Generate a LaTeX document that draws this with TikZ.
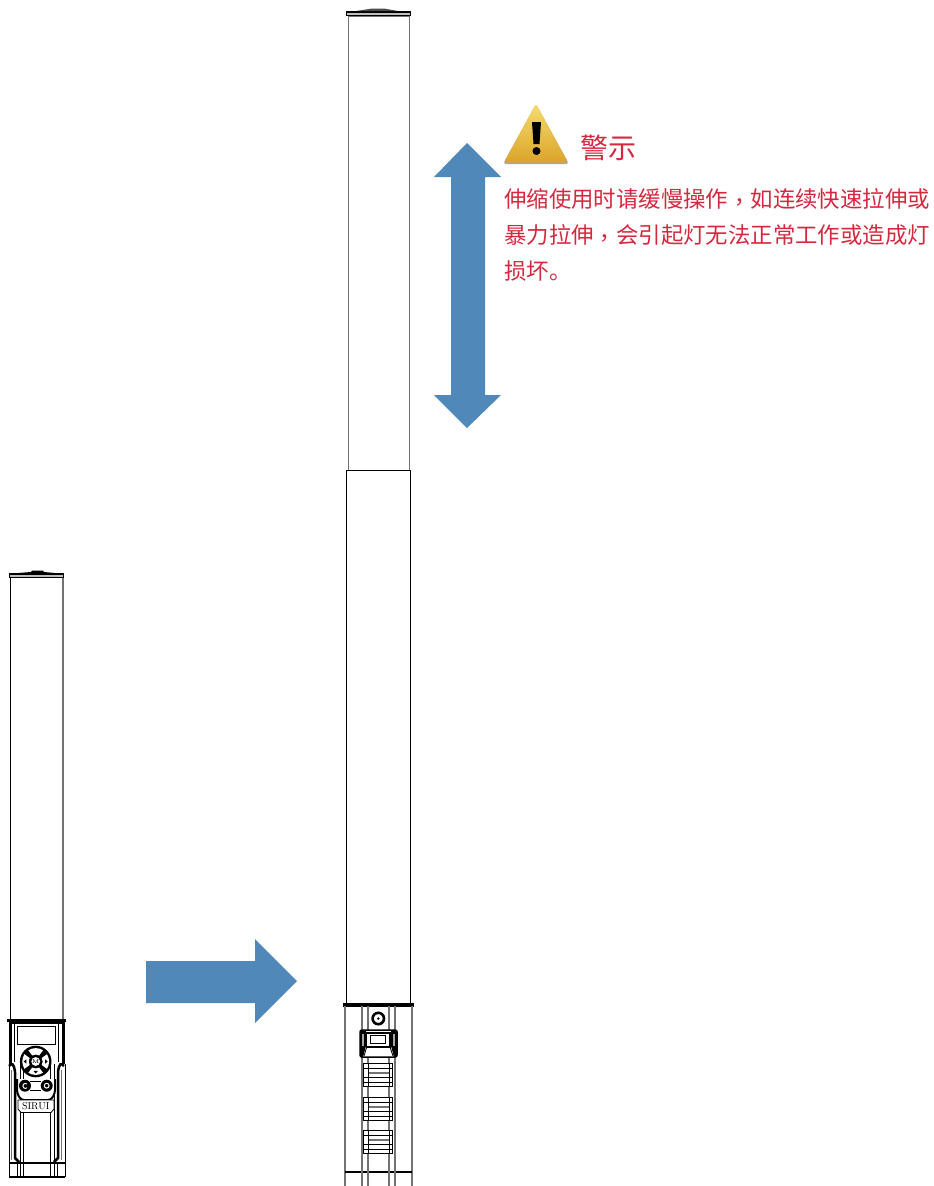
\documentclass[tikz,border=0pt]{standalone}
\usepackage{amsmath}
\usepackage{fontspec}
\usepackage{color}
\newfontfamily\cjk{Noto Sans CJK SC}
\newfontfamily\cjkcomma{Noto Sans CJK TC}
\newcommand{\midcomma}{\raisebox{-3.5pt}{\cjkcomma ，}}
\definecolor{arrowblue}{HTML}{4F88B9}
\definecolor{warnred}{HTML}{D4283F}
\definecolor{warntop}{HTML}{F4DE6E}
\definecolor{warnmid}{HTML}{EFCB35}
\definecolor{warnlow}{HTML}{DCA32B}
\begin{document}
\begin{tikzpicture}[x=1pt,y=-1pt]
        \tikzstyle{line} = [draw=black, line width=0.8pt]
        \tikzstyle{heavy} = [draw=black, line width=1.5pt]
        \tikzstyle{soft} = [draw=black!55, line width=1.2pt]
        \tikzstyle{bigarrow} = [fill=arrowblue, draw=none]
        \tikzstyle{warntext} = [text=warnred, font=\cjk\fontsize{22.4}{36}\selectfont, inner sep=0pt, align=left]
        \useasboundingbox (0,0) rectangle (934,1186);
        % short lamp
        \draw[line] (10,577) -- (10,1020);
        \draw[soft] (63,577) -- (63,1020);
        \draw[heavy,fill=black!25] (9.5,574) rectangle (63.5,577.5);
        \fill[black] (18,573) -- (31,572) -- (32,570.5) -- (43,570.5) -- (44,572) -- (55,573) -- cycle;
        \draw[heavy,line width=3pt] (7,1020.5) -- (66,1020.5);
        \draw[heavy,line width=3pt] (10,1022) -- (10,1064);
        \draw[heavy,line width=3pt] (63,1022) -- (63,1064);
        \draw[heavy,line width=2pt] (10,1023) -- (63,1023);
        \draw[line] (14.5,1024) -- (14.5,1062);
        \draw[line] (58,1024) -- (58,1062);
        \draw[line] (17.7,1026) rectangle (55,1044);
        % side grips
        \foreach \x/\w in {9/1,65/1,20/0.8,23/0.8,50/0.8,54/0.8} {
          \draw[line,line width=\w pt] (\x,1064) -- (\x,1177);
        }
        \draw[heavy,line width=2.5pt] (9,1066) .. controls (12,1062) and (14,1064) .. (15,1072) -- (15,1158) -- (19,1162);
        \draw[heavy,line width=2.5pt] (64,1066) .. controls (61,1062) and (59,1064) .. (58,1072) -- (58,1158) -- (54,1162);
        \draw[soft] (11.5,1070) -- (11.5,1160);
        \draw[soft] (61.5,1070) -- (61.5,1160);
        \draw[heavy,line width=1.3pt] (9,1163) -- (65,1163);
        \draw[heavy,line width=1.3pt] (9,1177) -- (65,1177);
        \foreach \x in {17,57} {
          \draw[line] (\x,1163) -- (\x,1177);
        }
        % control ring
        \fill[black] (35.7,1061.5) circle (15.8);
        \foreach \a in {0,90,180,270} {
          \fill[white,shift={(35.7,1061.5)}] (\a+30:7) arc (\a+30:\a-30:7) -- (\a-33:13.4) arc (\a-33:\a+33:13.4) -- cycle;
          \fill[black,shift={(35.7,1061.5)},rotate=\a] (12,0) -- (9.4,2.2) -- (9.4,-2.2) -- cycle;
        }
        \fill[white] (35.7,1061.5) circle (4.4);
        \node[font=\bfseries\fontsize{5.5}{5.5}\selectfont,inner sep=0pt] (mode) at (35.7,1061.5) {M};
        % buttons and badge
        \draw[heavy,line width=2pt,fill=white,rounded corners=3pt] (17,1079) -- (17,1093) -- (21,1100) -- (51,1100) -- (55,1093) -- (55,1079);
        \draw[line] (30,1081) -- (41,1081);
        \draw[line] (30,1090) -- (41,1090);
        \fill[black] (25,1085.7) circle (6);
        \fill[black] (46.7,1085.7) circle (6);
        \draw[white,line width=1pt] (27,1084) arc (-50:-310:2.5);
        \draw[white,line width=1pt] (46.7,1085.7) circle (2.4);
        \draw[line,fill=white] (18,1100) -- (54,1100) -- (54,1109) -- (51,1112.5) -- (21,1112.5) -- (18,1109) -- cycle;
        \node[font=\fontsize{10}{10}\selectfont,inner sep=0pt] (brand) at (35.7,1106) {SIRUI};
        % long lamp
        \draw[soft,line width=1pt] (348,16) rectangle (409,470);
        \draw[line] (346,470) rectangle (410,1003);
        \draw[heavy,fill=black!25] (346.5,12) rectangle (410.5,15.5);
        \fill[black!70] (356,11) -- (371,8.7) -- (385,8.7) -- (398,11) -- cycle;
        \draw[heavy,line width=2pt,fill=black!25] (344,1003.5) rectangle (413,1006);
        \draw[soft,line width=1.6pt] (345,1006) -- (345,1186);
        \draw[soft,line width=1.6pt] (412,1006) -- (412,1186);
        \draw[heavy,line width=1.3pt] (345,1172) -- (412,1172);
        \foreach \x in {362,395} {
          \draw[soft,line width=1.6pt] (\x,1006) -- (\x,1186);
        }
        \foreach \x in {368,389} {
          \draw[soft] (\x,1006) -- (\x,1186);
        }
        \draw[heavy,line width=2.6pt,fill=white] (378.3,1018.5) circle (5.7);
        \fill[black] (378.3,1018.5) circle (1.3);
        % sliding clip
        \draw[heavy,fill=white,rounded corners=2pt] (360,1030) rectangle (397,1057);
        \fill[black] (360,1030) -- (366,1030) -- (366,1046) -- (363,1057) -- (360,1057) -- cycle;
        \fill[black] (397,1030) -- (391,1030) -- (391,1046) -- (394,1057) -- (397,1057) -- cycle;
        \fill[black!35] (362,1034) rectangle (364,1046);
        \fill[black!35] (393,1034) rectangle (395,1046);
        \draw[heavy,line width=1.2pt] (366.7,1033) rectangle (390,1047);
        \draw[heavy,line width=1pt] (370.7,1035) rectangle (385.7,1043.5);
        \draw[line] (366.7,1047) -- (364,1056);
        \draw[line] (390,1047) -- (393,1056);
        % latches
        \foreach \y in {1063,1097,1130} {
          \draw[line,fill=white] (363.5,\y) rectangle (392.5,\y+23);
          \foreach \d in {5,14,19} {
            \draw[line] (363.5,\y+\d) -- (392.5,\y+\d);
          }
          \draw[soft,line width=2pt] (368,\y+9.5) -- (389,\y+9.5);
          \draw[line] (368,\y) -- (368,\y+23);
          \draw[line] (389,\y) -- (389,\y+23);
        }
        % arrows
        \fill[bigarrow] (467,143) -- (501,177) -- (485,177) -- (485,395) -- (501,395) -- (467,428) -- (434,395) -- (451,395) -- (451,177) -- (434,177) -- cycle;
        \fill[bigarrow] (146,961) -- (255,961) -- (255,939) -- (297,981) -- (255,1023) -- (255,1003) -- (146,1003) -- cycle;
        % warning
        \fill[black!35,rounded corners=3pt] (536,104) -- (569,164) -- (503,164) -- cycle;
        \shade[top color=warntop, middle color=warnmid, bottom color=warnlow, rounded corners=3pt] (536,103.5) -- (568,162.5) -- (504,162.5) -- cycle;
        \fill[black] (532,122) -- (541,122) -- (539.5,144) -- (533.5,144) -- cycle;
        \fill[black] (536.5,151) circle (4);
        \node[warntext,anchor=west,font=\cjk\fontsize{28}{28}\selectfont] (title) at (580,148) {警示};
        \node[warntext,anchor=north west] (body) at (504,188) {伸缩使用时请缓慢操作\midcomma 如连续快速拉伸或\\暴力拉伸\midcomma 会引起灯无法正常工作或造成灯\\损坏。};
      \end{tikzpicture}
\end{document}
